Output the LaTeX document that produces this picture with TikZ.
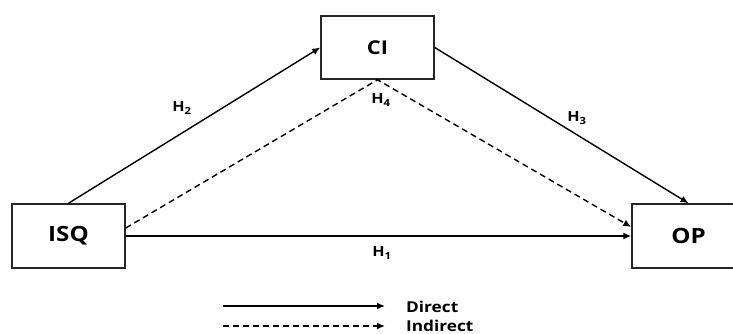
\documentclass[tikz,border=0pt]{standalone}
\usepackage{fontspec}
\setmainfont{Open Sans}
\newfontfamily\wide[FakeStretch=1.15]{Open Sans}
\usetikzlibrary{arrows.meta}
\tikzset{
  box/.style={draw=black!85, line width=1.5pt, fill=white, minimum width=113pt, minimum height=64pt, inner sep=0pt, font=\wide\bfseries\fontsize{21}{23}\selectfont},
  conn/.style={line width=1.4pt, -{Latex[length=8pt,width=7pt]}},
  indir/.style={conn, dash pattern=on 6pt off 4pt},
  hlab/.style={font=\wide\bfseries\fontsize{14}{16}\selectfont, inner sep=0pt},
  legtext/.style={font=\wide\bfseries\fontsize{15}{17}\selectfont, anchor=west, inner sep=0pt}
}
\begin{document}
\begin{tikzpicture}[x=1pt,y=-1pt]
\useasboundingbox (0,0) rectangle (733,334);
\clip (0,0) rectangle (733,334);
\fill[white] (0,0) rectangle (733,334);
\node[box, minimum height=63pt, font=\wide\bfseries\fontsize{19}{21}\selectfont] (ci) at (377.5,47.5) {CI};
\node[box] (isq) at (68.5,236) {ISQ};
\node[box] (op) at (688.5,236) {OP};
\draw[conn] (isq.north) -- (ci.west);
\draw[conn] (ci.east) -- (op.north);
\draw[indir] ([yshift=8pt]isq.east) -- (ci.south) -- ([yshift=9pt]op.west);
\draw[conn] (isq.east) -- (op.west);
\node[hlab] (h2) at (182,108) {H\textsubscript{2}};
\node[hlab] (h4) at (381,100) {H\textsubscript{4}};
\node[hlab] (h3) at (577,118) {H\textsubscript{3}};
\node[hlab] (h1) at (382,253) {H\textsubscript{1}};
\coordinate (la) at (223,306);
\coordinate (lb) at (385,306);
\coordinate (lc) at (223,326);
\coordinate (ld) at (385,326);
\draw[conn] (la) -- (lb);
\draw[indir] (lc) -- (ld);
\node[legtext] (dir) at (406,307) {Direct};
\node[legtext] (ind) at (406,326) {Indirect};
\end{tikzpicture}
\end{document}
